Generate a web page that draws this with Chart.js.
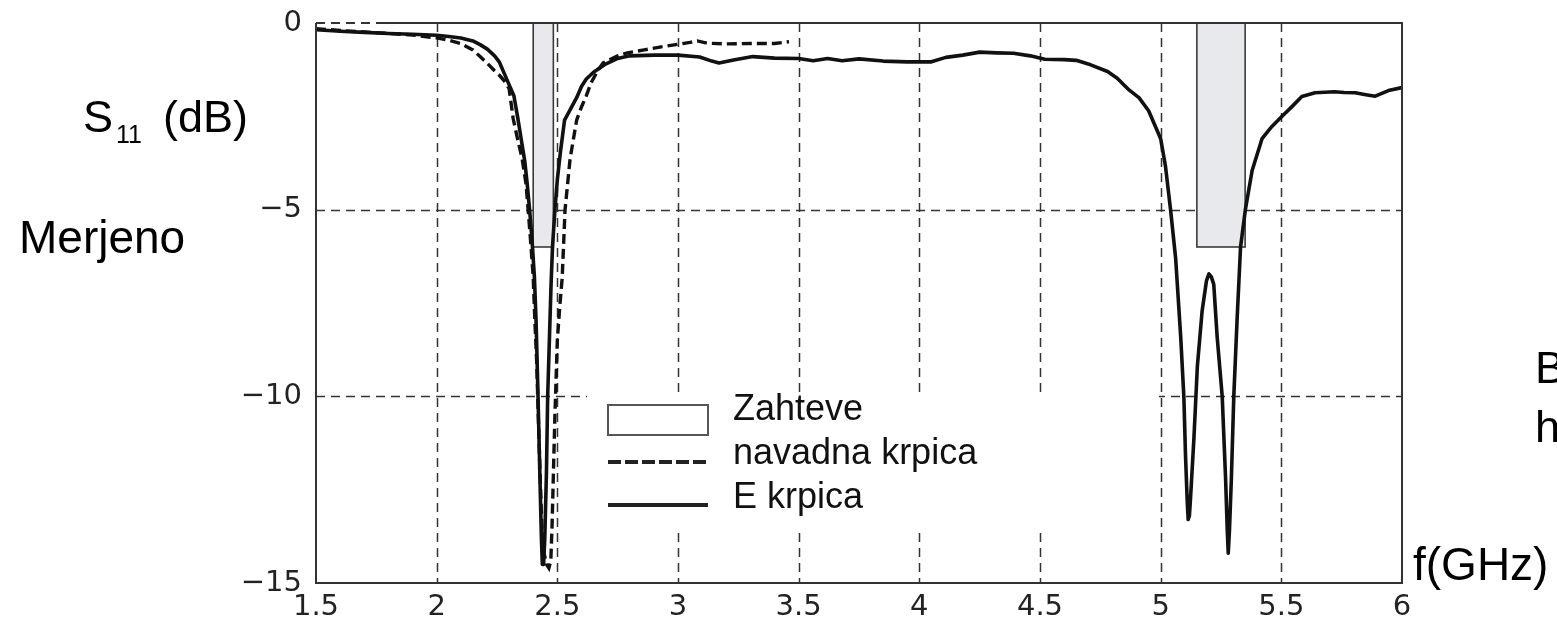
<!DOCTYPE html>
<html><head><meta charset="utf-8">
<script src="https://cdn.jsdelivr.net/npm/chart.js@4.4.1/dist/chart.umd.min.js"></script>
<style>html,body{margin:0;padding:0;background:#fff;}#wrap{width:1557px;height:621px;position:relative;}</style>
</head><body><div id="wrap"><canvas id="c" width="1557" height="621"></canvas></div>
<script>
// ---- data ----
const freqE = [1.50,1.60,1.70,1.80,1.90,2.00,2.05,2.10,2.15,2.18,2.21,2.24,2.26,2.28,2.30,2.32,2.335,2.35,2.365,2.375,2.385,2.395,2.405,2.412,2.42,2.428,2.434,2.438,2.443,2.448,2.455,2.46,2.467,2.474,2.48,2.49,2.50,2.512,2.53,2.555,2.58,2.60,2.62,2.65,2.70,2.75,2.80,2.90,3.00,3.09,3.14,3.17,3.23,3.31,3.40,3.50,3.56,3.62,3.68,3.75,3.85,3.95,4.05,4.11,4.18,4.25,4.32,4.39,4.46,4.52,4.60,4.65,4.71,4.78,4.82,4.87,4.91,4.95,4.98,5.00,5.02,5.041,5.062,5.083,5.096,5.103,5.110,5.114,5.119,5.124,5.138,5.152,5.172,5.19,5.20,5.21,5.22,5.234,5.255,5.269,5.276,5.28,5.285,5.293,5.303,5.317,5.331,5.351,5.379,5.42,5.461,5.503,5.544,5.585,5.64,5.72,5.76,5.806,5.85,5.889,5.944,6.00];
const s11E  = [-0.18,-0.22,-0.25,-0.28,-0.30,-0.33,-0.36,-0.40,-0.48,-0.58,-0.70,-0.88,-1.05,-1.35,-1.65,-1.95,-2.5,-3.1,-3.7,-4.3,-5.0,-5.8,-6.8,-8.0,-10.0,-12.2,-13.8,-14.5,-14.5,-13.8,-12.0,-10.0,-8.5,-7.0,-6.0,-5.0,-4.2,-3.5,-2.6,-2.3,-2.0,-1.7,-1.5,-1.32,-1.1,-0.95,-0.88,-0.86,-0.86,-0.91,-1.02,-1.07,-0.99,-0.90,-0.94,-0.95,-1.01,-0.95,-1.01,-0.96,-1.02,-1.04,-1.04,-0.92,-0.86,-0.78,-0.80,-0.81,-0.88,-0.97,-0.98,-1.0,-1.12,-1.30,-1.48,-1.80,-2.0,-2.35,-2.8,-3.1,-3.84,-5.0,-6.3,-8.4,-10.0,-11.6,-12.8,-13.3,-13.2,-12.7,-11.1,-9.2,-7.7,-6.9,-6.72,-6.8,-7.0,-8.4,-10.0,-12.2,-13.6,-14.2,-13.6,-12.2,-10.0,-7.9,-6.0,-5.0,-3.95,-3.1,-2.77,-2.5,-2.24,-1.97,-1.87,-1.84,-1.86,-1.87,-1.92,-1.96,-1.81,-1.73];
const freqN = [1.50,1.60,1.70,1.80,1.90,2.00,2.05,2.10,2.15,2.18,2.21,2.24,2.26,2.28,2.30,2.317,2.335,2.354,2.37,2.379,2.39,2.40,2.407,2.414,2.421,2.428,2.436,2.445,2.455,2.465,2.473,2.478,2.484,2.49,2.495,2.50,2.51,2.52,2.532,2.553,2.58,2.60,2.62,2.64,2.67,2.69,2.75,2.79,2.86,2.93,3.00,3.05,3.08,3.12,3.20,3.30,3.40,3.46];
const s11N  = [-0.15,-0.20,-0.24,-0.28,-0.32,-0.40,-0.46,-0.55,-0.72,-0.90,-1.08,-1.28,-1.40,-1.55,-1.75,-2.56,-3.1,-3.63,-4.3,-5.0,-5.9,-6.8,-8.0,-9.0,-10.5,-12.0,-13.5,-14.2,-14.5,-14.6,-14.4,-13.5,-12.0,-10.5,-9.5,-8.5,-7.6,-6.84,-5.0,-3.63,-2.6,-2.25,-1.95,-1.6,-1.25,-1.07,-0.88,-0.80,-0.72,-0.64,-0.57,-0.52,-0.48,-0.54,-0.56,-0.55,-0.55,-0.50];
const xTicks = [1.5,2,2.5,3,3.5,4,4.5,5,5.5,6];
const yTicks = [0,-5,-10,-15];
const reqLow   = [2.4, 5.15];
const reqHigh  = [2.4835, 5.35];
const reqLevel = [-6, -6];
const legendLabels = ['Zahteve','navadna krpica','E krpica'];

// ---- drawing ----
const INK = '#111';
const decor = {
  id: 'decor',
  beforeDatasetsDraw(chart) {
    const {ctx, chartArea: a, scales: {x, y}} = chart;
    ctx.save();
    ctx.strokeStyle = '#333'; ctx.lineWidth = 1.5; ctx.setLineDash([9, 6]);
    xTicks.slice(1, -1).forEach(v => {
      const px = Math.round(x.getPixelForValue(v)) + 0.5;
      ctx.beginPath(); ctx.moveTo(px, a.top); ctx.lineTo(px, a.bottom); ctx.stroke();
    });
    yTicks.slice(1, -1).forEach(v => {
      const py = Math.round(y.getPixelForValue(v)) + 0.5;
      ctx.beginPath(); ctx.moveTo(a.left, py); ctx.lineTo(a.right, py); ctx.stroke();
    });
    ctx.setLineDash([]);
    ctx.fillStyle = '#fff';
    ctx.fillRect(587, 394, 572, 137);
    for (let i = 0; i < reqLow.length; i++) {
      const x0 = x.getPixelForValue(reqLow[i]), x1 = x.getPixelForValue(reqHigh[i]);
      const y0 = y.getPixelForValue(0), y1 = y.getPixelForValue(reqLevel[i]);
      ctx.fillStyle = '#e8e9ec';
      ctx.fillRect(x0, y0, x1 - x0, y1 - y0);
      ctx.strokeStyle = '#3a3a3a'; ctx.lineWidth = 1.6;
      ctx.strokeRect(x0, y0, x1 - x0, y1 - y0);
    }
    ctx.restore();
  },
  afterDatasetsDraw(chart) {
    const {ctx, chartArea: a} = chart;
    ctx.save();
    ctx.strokeStyle = '#333'; ctx.lineWidth = 2;
    ctx.beginPath();
    ctx.moveTo(a.left, a.top); ctx.lineTo(a.left, a.bottom); ctx.lineTo(a.right, a.bottom); ctx.lineTo(a.right, a.top); ctx.lineTo(380, a.top);
    ctx.stroke();
    ctx.setLineDash([9, 6]);
    ctx.beginPath(); ctx.moveTo(a.left, a.top); ctx.lineTo(380, a.top); ctx.stroke();
    ctx.setLineDash([]);
    ctx.fillStyle = '#fff'; ctx.strokeStyle = '#555'; ctx.lineWidth = 2;
    ctx.fillRect(608, 405, 100, 30); ctx.strokeRect(608, 405, 100, 30);
    ctx.strokeStyle = '#222'; ctx.lineWidth = 4;
    ctx.setLineDash([13, 4]);
    ctx.beginPath(); ctx.moveTo(608, 462); ctx.lineTo(708, 462); ctx.stroke();
    ctx.setLineDash([]);
    ctx.beginPath(); ctx.moveTo(608, 505); ctx.lineTo(708, 505); ctx.stroke();
    ctx.fillStyle = INK; ctx.font = '36px "Liberation Sans", Arial, sans-serif';
    ctx.textBaseline = 'alphabetic'; ctx.textAlign = 'left';
    ctx.fillText(legendLabels[0], 733, 420);
    ctx.fillText(legendLabels[1], 733, 464);
    ctx.fillText(legendLabels[2], 733, 508);
    ctx.restore();
  },
  afterDraw(chart) {
    const ctx = chart.ctx;
    ctx.save();
    ctx.fillStyle = '#000'; ctx.textBaseline = 'alphabetic'; ctx.textAlign = 'left';
    ctx.font = '45px "Liberation Sans", Arial, sans-serif';
    ctx.fillText('S', 83, 132);
    ctx.fillText('(dB)', 163, 132);
    ctx.font = '25px "Liberation Sans", Arial, sans-serif';
    ctx.fillText('11', 116, 143);
    ctx.font = '46px "Liberation Sans", Arial, sans-serif';
    ctx.fillText('Merjeno', 19, 253);
    ctx.fillText('f(GHz)', 1413, 580);
    ctx.font = '45px "Liberation Sans", Arial, sans-serif';
    ctx.fillText('B', 1535, 383);
    ctx.fillText('h', 1535, 442);
    ctx.restore();
  }
};

const toPts = (xs, ys) => xs.map((v, i) => ({x: v, y: ys[i]}));
const fmt = v => (v < 0 ? '\u2212' + Math.abs(v) : String(v));

new Chart(document.getElementById('c'), {
  type: 'line',
  data: {
    datasets: [
      {label: legendLabels[1], data: toPts(freqN, s11N), borderColor: INK, borderWidth: 3.4, borderDash: [10, 5], pointRadius: 0, tension: 0, fill: false},
      {label: legendLabels[2], data: toPts(freqE, s11E), borderColor: INK, borderWidth: 3.6, pointRadius: 0, tension: 0, fill: false, borderJoinStyle: 'round'}
    ]
  },
  options: {
    responsive: false, animation: false,
    layout: {padding: {left: 0, right: 155, top: 23, bottom: 0}},
    plugins: {legend: {display: false}, tooltip: {enabled: false}},
    scales: {
      x: {
        type: 'linear', min: 1.5, max: 6,
        afterBuildTicks: s => { s.ticks = xTicks.map(v => ({value: v})); },
        afterFit: s => { s.height = 38; s.paddingLeft = 0; s.paddingRight = 0; },
        grid: {display: false, drawTicks: false}, border: {display: false},
        ticks: {autoSkip: false, maxRotation: 0, padding: 7, color: '#222', font: {family: '"DejaVu Sans", sans-serif', size: 29}, callback: v => fmt(v)}
      },
      y: {
        type: 'linear', min: -15, max: 0,
        afterBuildTicks: s => { s.ticks = yTicks.map(v => ({value: v})); },
        afterFit: s => { s.width = 316; s.paddingTop = 0; s.paddingBottom = 0; },
        grid: {display: false, drawTicks: false}, border: {display: false},
        ticks: {padding: 14, color: '#222', font: {family: '"DejaVu Sans", sans-serif', size: 29}, callback: v => fmt(v)}
      }
    }
  },
  plugins: [decor]
});
</script>
</body></html>
